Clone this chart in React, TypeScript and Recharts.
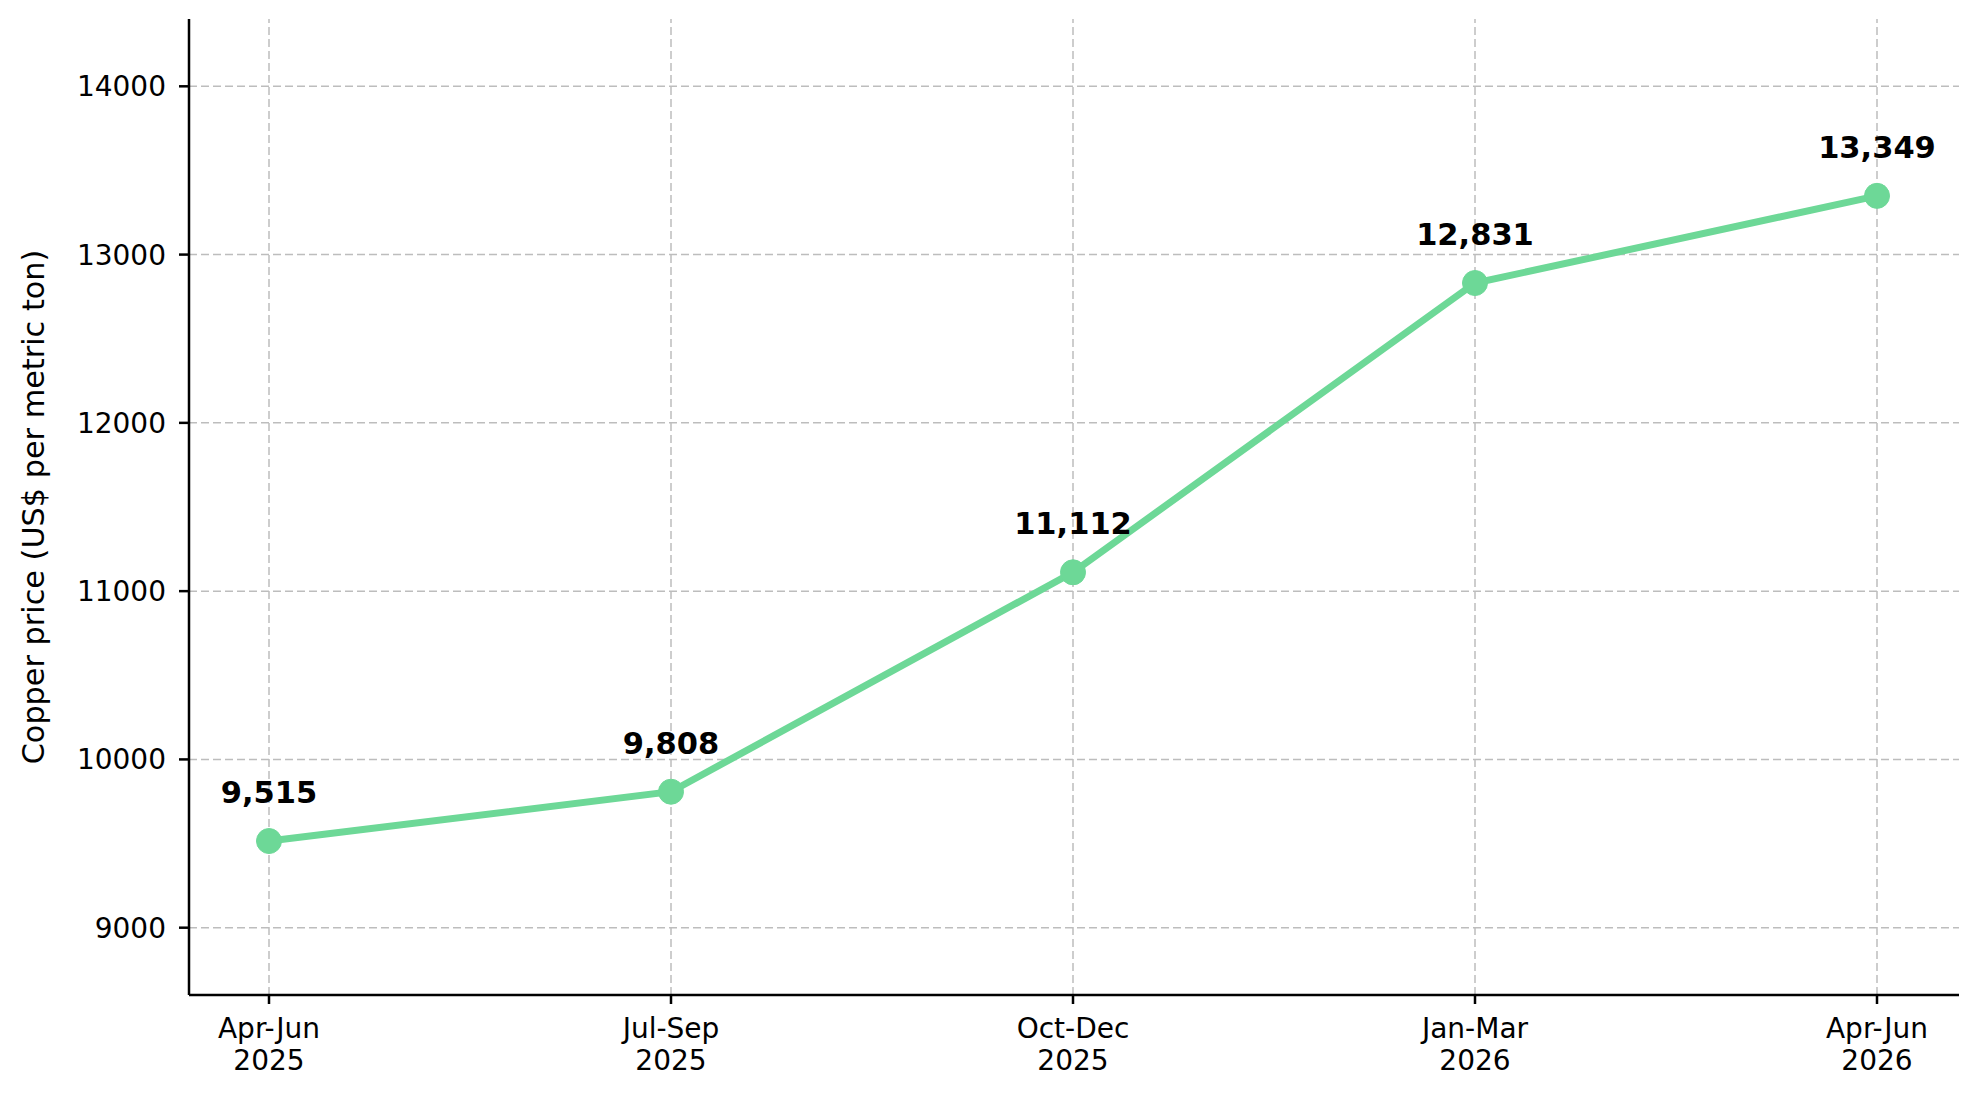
import { LineChart, Line, XAxis, YAxis, ReferenceLine, LabelList, Label } from 'recharts'

const periods = ['Apr-Jun\n2025', 'Jul-Sep\n2025', 'Oct-Dec\n2025', 'Jan-Mar\n2026', 'Apr-Jun\n2026']
const prices = [9515, 9808, 11112, 12831, 13349]
const yTicks = [9000, 10000, 11000, 12000, 13000, 14000]

const data = periods.map((period, i) => ({ period, price: prices[i] }))

const FONT = '"DejaVu Sans", sans-serif'
const GREEN = '#6dd897'
const GRID = '#bdbdbd'

function PeriodTick({ x, y, payload }: any) {
  const [a, b] = String(payload.value).split('\n')
  return (
    <text x={x} textAnchor="middle" fontFamily={FONT} fontSize={28} fill="#000">
      <tspan x={x} y={y + 34}>{a}</tspan>
      <tspan x={x} y={y + 66}>{b}</tspan>
    </text>
  )
}

function ValueLabel({ x, y, value }: any) {
  return (
    <text x={x} y={y - 38} textAnchor="middle" fontFamily={FONT} fontSize={30.5} fontWeight="bold" fill="#000">
      {Number(value).toLocaleString('en-US')}
    </text>
  )
}

export default function App() {
  return (
    <div style={{ position: 'absolute', left: 0, top: 0, width: 1977, height: 1095, background: '#fff' }}>
      <LineChart width={1977} height={1095} data={data} margin={{ top: 19, right: 18, bottom: 0, left: 0 }}>
        <XAxis
          dataKey="period"
          height={100}
          interval={0}
          padding={{ left: 80, right: 82 }}
          tick={<PeriodTick />}
          tickSize={9}
          tickMargin={0}
          axisLine={{ stroke: '#000', strokeWidth: 2.5 }}
          tickLine={{ stroke: '#000', strokeWidth: 2.5 }}
        />
        <YAxis
          width={189}
          domain={[8600, 14400]}
          ticks={yTicks}
          allowDataOverflow
          tickSize={10}
          tickMargin={13}
          tick={{ fontFamily: FONT, fontSize: 28, fill: '#000' }}
          axisLine={{ stroke: '#000', strokeWidth: 2.5 }}
          tickLine={{ stroke: '#000', strokeWidth: 2.5 }}
        >
          <Label
            content={() => (
              <text
                transform="translate(33,507) rotate(-90)"
                textAnchor="middle"
                dominantBaseline="central"
                fontFamily={FONT}
                fontSize={30.3}
                fill="#000"
              >
                Copper price (US$ per metric ton)
              </text>
            )}
          />
        </YAxis>
        {yTicks.map((t) => (
          <ReferenceLine key={`h${t}`} y={t} stroke={GRID} strokeWidth={1.5} strokeDasharray="8 4" />
        ))}
        {periods.map((p) => (
          <ReferenceLine key={`v${p}`} x={p} stroke={GRID} strokeWidth={1.5} strokeDasharray="8 4" />
        ))}
        <Line
          type="linear"
          dataKey="price"
          stroke={GREEN}
          strokeWidth={7}
          dot={{ r: 12.5, fill: GREEN, stroke: GREEN, strokeWidth: 1 }}
          activeDot={false}
          isAnimationActive={false}
        >
          <LabelList dataKey="price" content={<ValueLabel />} />
        </Line>
      </LineChart>
    </div>
  )
}
